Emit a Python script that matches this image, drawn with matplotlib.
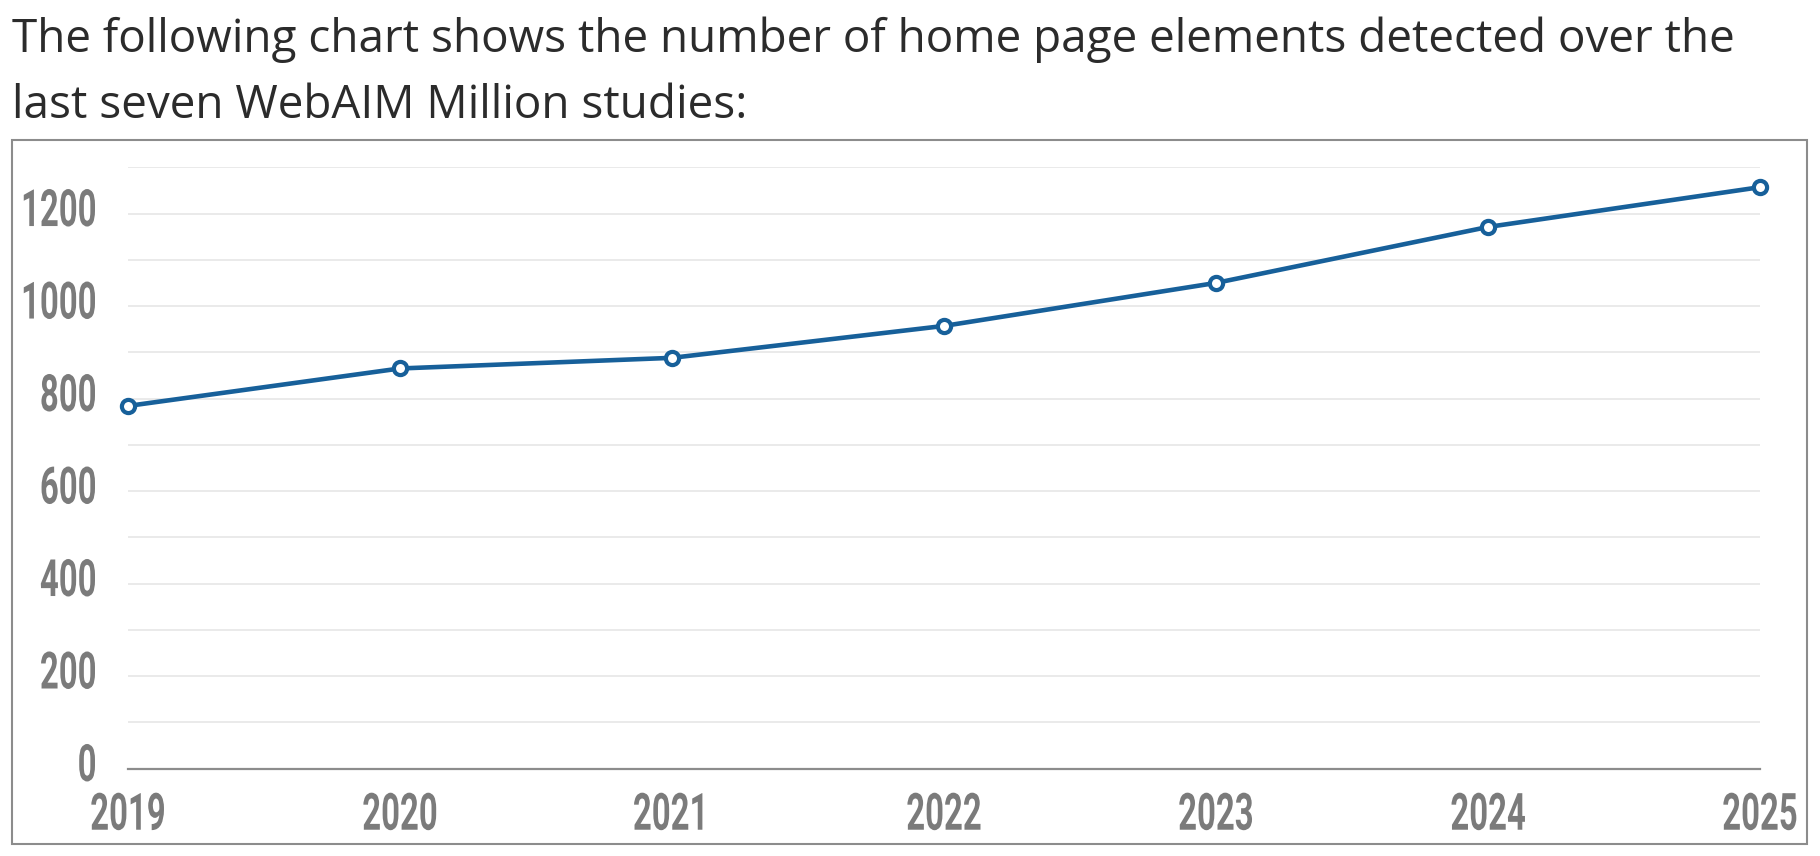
import matplotlib
matplotlib.use("Agg")
from matplotlib import pyplot as plt
from matplotlib.ticker import MultipleLocator
from matplotlib.patheffects import AbstractPathEffect
import matplotlib.patches as patches
import matplotlib.transforms as mtransforms

years = [2019, 2020, 2021, 2022, 2023, 2024, 2025]
elements = [784, 865, 888, 957, 1050, 1171, 1257]
y_ticks = [0, 200, 400, 600, 800, 1000, 1200]
title_lines = ["The following chart shows the number of home page elements detected over the",
               "last seven WebAIM Million studies:"]

tick_font = ['Roboto', 'DejaVu Sans']
tick_color = '#7b7b7b'
line_color = '#17609a'


class Squeeze(AbstractPathEffect):
    # narrows the drawn glyphs horizontally, the reference uses a condensed face.
    # right_px: if given, the squeezed text is drawn with its right edge at that pixel
    def __init__(self, sx, right_px=None):
        super().__init__()
        self.sx = sx
        self.right_px = right_px

    def draw_path(self, renderer, gc, tpath, affine, rgbFace=None):
        ext = tpath.get_extents(affine)
        if self.right_px is None:
            cx = (ext.x0 + ext.x1) / 2
            dest = cx
        else:
            cx = ext.x1
            dest = self.right_px
        t = affine + mtransforms.Affine2D().translate(-cx, 0).scale(self.sx, 1).translate(dest, 0)
        renderer.draw_path(gc, tpath, t, rgbFace)


fig = plt.figure(figsize=(18.2, 8.56), dpi=100)
W, H = 1820, 856

# intro text above the chart
fig.text(12 / W, 1 - 52 / H, title_lines[0], fontsize=33, color='#2b2b2b',
         family=['Open Sans', 'DejaVu Sans'], va='baseline', ha='left')
fig.text(12 / W, 1 - 118 / H, title_lines[1], fontsize=33, color='#2b2b2b',
         family=['Open Sans', 'DejaVu Sans'], va='baseline', ha='left')

# frame round the chart
fig.add_artist(patches.Rectangle((12 / W, 1 - 844 / H), (1807 - 12) / W, (844 - 140) / H,
                                 transform=fig.transFigure, facecolor='none',
                                 edgecolor='#8c8c8c', linewidth=1.5))

ax = fig.add_axes([128 / W, 1 - 768.5 / H, (1760 - 128) / W, (768.5 - 167.3) / H])
ax.plot(years, elements, color=line_color, linewidth=3.3, marker='o', markersize=9.5,
        markerfacecolor='white', markeredgecolor=line_color, markeredgewidth=3,
        clip_on=False, zorder=5)

ax.set_xlim(years[0], years[-1])
ax.set_ylim(0, 1300)
ax.set_xticks(years)
ax.set_yticks(y_ticks)
ax.yaxis.set_minor_locator(MultipleLocator(100))
ax.grid(axis='y', which='both', color='#e6e6e6', linewidth=1.2)
ax.set_axisbelow(True)

for side in ['top', 'left', 'right']:
    ax.spines[side].set_visible(False)
ax.spines['bottom'].set_color('#8c8c8c')
ax.spines['bottom'].set_linewidth(1.6)
ax.spines['bottom'].set_zorder(3)

ax.tick_params(axis='both', which='both', length=0)
ax.tick_params(axis='y', pad=43)
ax.tick_params(axis='x', pad=16)
for lbl in ax.get_xticklabels() + ax.get_yticklabels():
    lbl.set_family(tick_font)
    lbl.set_fontweight('bold')
    lbl.set_fontsize(37)
    lbl.set_color(tick_color)

for lbl in ax.get_xticklabels():
    lbl.set_path_effects([Squeeze(0.64)])

# y labels: right edges line up at x=95px, a little above their gridline
shift = mtransforms.ScaledTranslation(0, 7 / 100, fig.dpi_scale_trans)
for lbl in ax.get_yticklabels():
    lbl.set_horizontalalignment('center')
    lbl.set_path_effects([Squeeze(0.64, right_px=95)])
    lbl.set_transform(lbl.get_transform() + shift)

fig.savefig('out.png', dpi=100, facecolor='white')
